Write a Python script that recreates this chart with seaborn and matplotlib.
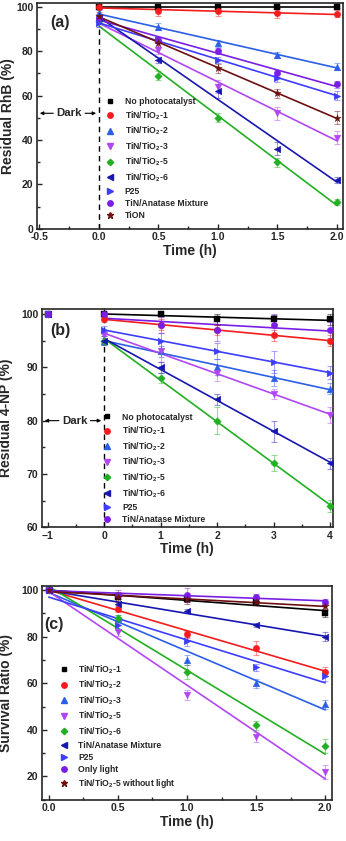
import numpy as np
import matplotlib
matplotlib.use("Agg")
import matplotlib.pyplot as plt
from matplotlib.lines import Line2D
from matplotlib.ticker import MultipleLocator, FormatStrFormatter
import seaborn as sns

sns.set_style("ticks")
plt.rcParams['font.family'] = ['Liberation Sans', 'DejaVu Sans']
plt.rcParams['font.weight'] = 'bold'
plt.rcParams['mathtext.fontset'] = 'custom'
plt.rcParams['mathtext.rm'] = 'Liberation Sans:bold'
plt.rcParams['mathtext.bf'] = 'Liberation Sans:bold'
plt.rcParams['mathtext.default'] = 'bf'

# ---------------- Panel (a) ----------------
a_time = [0, 0.5, 1.0, 1.5, 2.0]
a_labels = ["No photocatalyst", "TiN/TiO$_2$-1", "TiN/TiO$_2$-2", "TiN/TiO$_2$-3",
            "TiN/TiO$_2$-5", "TiN/TiO$_2$-6", "P25", "TiN/Anatase Mixture", "TiON"]
a_nophoto = [100, 100, 100, 100, 100]
a_tio2_1 = [100, 98, 98, 97, 96.8]
a_tio2_2 = [97, 91, 83.5, 78.3, 73]
a_tio2_3 = [93, 80.5, 64, 52, 41]
a_tio2_5 = [93.5, 69, 50, 30, 12]
a_tio2_6 = [95, 76, 62, 36, 22]
a_p25 = [92.5, 85, 76, 68, 60]
a_anatase = [95, 85, 80, 70, 65]
a_tion = [96, 83.5, 72.3, 61, 50]
a_err = [[0.5, 0.5, 0.5, 0.5, 0.5], [1, 2, 2, 2, 1.5], [1.5, 1.5, 1.5, 1.5, 1.5],
         [2, 2, 3, 3, 3], [1.5, 2, 2, 2, 1.5], [1.5, 1.5, 3, 3, 1.5],
         [1.5, 1.5, 1.5, 2, 2], [1.5, 1.5, 1.5, 1.5, 1.5], [1.5, 1.5, 2, 2, 3]]

# ---------------- Panel (b) ----------------
b_time = [-1, 0, 1, 2, 3, 4]
b_labels = ["No photocatalyst", "TiN/TiO$_2$-1", "TiN/TiO$_2$-2", "TiN/TiO$_2$-3",
            "TiN/TiO$_2$-5", "TiN/TiO$_2$-6", "P25", "TiN/Anatase Mixture"]
b_nophoto = [100, 100, 100, 99, 99, 99]
b_tio2_1 = [100, 99, 98, 97, 96, 95]
b_tio2_2 = [100, 95, 93, 90, 88, 86]
b_tio2_3 = [100, 96, 93, 89, 85, 81]
b_tio2_5 = [100, 95, 88, 80, 72, 64]
b_tio2_6 = [100, 95, 90, 84, 78, 72]
b_p25 = [100, 97, 95, 93, 91, 89]
b_anatase = [100, 100, 98, 97, 98, 97]
b_err = [[0.3, 0.3, 0.3, 1, 0.8, 1], [0.3, 0.5, 1, 1, 1, 1], [0.3, 0.5, 1, 1.5, 1.5, 1],
         [0.3, 0.8, 2, 1.5, 1, 1.5], [0.3, 0.8, 1, 2.5, 1.5, 1.2], [0.3, 0.8, 1, 1, 2, 1],
         [0.3, 0.8, 1.5, 1.5, 2, 1.2], [0.5, 0.5, 1.5, 2, 2, 1.5]]

# ---------------- Panel (c) ----------------
c_time = [0, 0.5, 1.0, 1.5, 2.0]
c_labels = ["TiN/TiO$_2$-1", "TiN/TiO$_2$-2", "TiN/TiO$_2$-3", "TiN/TiO$_2$-5",
            "TiN/TiO$_2$-6", "TiN/Anatase Mixture", "P25", "Only light",
            "TiN/TiO$_2$-5 without light"]
c_tio2_1 = [100, 97, 96, 95, 90]
c_tio2_2 = [100, 92, 81, 75, 65]
c_tio2_3 = [100, 88, 70, 60, 51]
c_tio2_5 = [100, 82, 55, 37, 22]
c_tio2_6 = [100, 88, 65, 42, 33]
c_anatase = [100, 94, 91, 85, 80]
c_p25 = [100, 85, 78, 67, 63]
c_light = [100, 98, 98, 97, 95]
c_nolight = [100, 97, 96, 95, 93]
c_err = [[0.5, 1, 1, 1.5, 1.5], [0.5, 1.5, 1.5, 3, 2], [0.5, 1.5, 2, 2, 2],
         [0.5, 1.5, 2, 2, 3], [0.5, 1.5, 3, 2, 3], [0.5, 1, 1, 1, 2],
         [0.5, 2, 2, 1.5, 2], [0.5, 2, 3, 1.5, 1], [0.5, 2, 2, 1, 1]]

black, red, blue, purple, green = "#000000", "#f41c1c", "#2b5fe6", "#b146f2", "#22b022"
dkblue, p25c, violet, brown = "#1717b0", "#3d3dff", "#7a1ee6", "#6e1010"

a_series = [a_nophoto, a_tio2_1, a_tio2_2, a_tio2_3, a_tio2_5, a_tio2_6, a_p25, a_anatase, a_tion]
a_colors = [black, red, blue, purple, green, dkblue, p25c, violet, brown]
a_markers = ["s", "o", "^", "v", "D", "<", ">", "o", "*"]

b_series = [b_nophoto, b_tio2_1, b_tio2_2, b_tio2_3, b_tio2_5, b_tio2_6, b_p25, b_anatase]
b_colors = [black, red, blue, purple, green, dkblue, p25c, violet]
b_markers = ["s", "o", "^", "v", "D", "<", ">", "o"]

c_series = [c_tio2_1, c_tio2_2, c_tio2_3, c_tio2_5, c_tio2_6, c_anatase, c_p25, c_light, c_nolight]
c_colors = [black, red, blue, purple, green, dkblue, p25c, violet, brown]
c_markers = ["s", "o", "^", "v", "D", "<", ">", "o", "*"]

msizes = {"s": 4.0, "o": 4.6, "^": 4.8, "v": 4.8, "D": 3.8, "<": 4.8, ">": 4.8, "*": 5.5}

fig = plt.figure(figsize=(3.46, 8.41), dpi=100)
ax_a = fig.add_axes([0.107, 0.728, 0.884, 0.268])
ax_b = fig.add_axes([0.121, 0.373, 0.841, 0.260])
ax_c = fig.add_axes([0.121, 0.049, 0.839, 0.254])


def draw(ax, t, series, colors, markers, errs, fit_from_index=0):
    t = np.asarray(t, dtype=float)
    for y, col, mk, er in zip(series, colors, markers, errs):
        y = np.asarray(y, dtype=float)
        sns.regplot(x=t[fit_from_index:], y=y[fit_from_index:], ax=ax, ci=None,
                    scatter=False, color=col, line_kws=dict(lw=1.2, zorder=2))
        ax.errorbar(t, y, yerr=er, fmt="none", ecolor=col, alpha=0.45,
                    elinewidth=0.8, capsize=2, capthick=0.8, zorder=3)
        sns.scatterplot(x=t, y=y, ax=ax, color=col, marker=mk, s=msizes[mk] ** 2,
                        edgecolor=col, linewidth=0.3, zorder=4, legend=False)


def legend(ax, labels, colors, markers, anchor):
    handles = [Line2D([], [], ls="none", marker=m, color=c, markersize=msizes[m] * 0.85)
               for m, c in zip(markers, colors)]
    ax.legend(handles, labels, loc="upper left", bbox_to_anchor=anchor, frameon=False,
              prop=dict(size=6.2, weight="bold"), handlelength=1.0, handletextpad=1.2,
              labelspacing=0.36, borderpad=0, borderaxespad=0)


def style(ax):
    for s in ax.spines.values():
        s.set_linewidth(1.2)
        s.set_visible(True)
    ax.tick_params(which="both", direction="in", width=1.0, labelsize=7.5, pad=2.5)
    ax.tick_params(which="major", length=3.5)
    ax.tick_params(which="minor", length=2)
    for lab in ax.get_xticklabels() + ax.get_yticklabels():
        lab.set_fontweight("bold")


def dark(ax, xl, xr, xc, y, half):
    ax.text(xc, y, "Dark", ha="center", va="center", fontsize=8.2, fontweight="bold")
    ap = dict(arrowstyle="-|>", lw=0.8, color="black", mutation_scale=5)
    ax.annotate("", xy=(xl, y), xytext=(xc - half, y), arrowprops=ap)
    ax.annotate("", xy=(xr, y), xytext=(xc + half, y), arrowprops=ap)


# Panel (a)
draw(ax_a, a_time, a_series, a_colors, a_markers, a_err)
ax_a.axvline(0, color="black", ls=(0, (4, 3)), lw=1.0, zorder=1)
ax_a.set_xlim(-0.52, 2.05)
ax_a.set_ylim(0, 101.5)
ax_a.xaxis.set_major_locator(MultipleLocator(0.5))
ax_a.xaxis.set_minor_locator(MultipleLocator(0.25))
ax_a.xaxis.set_major_formatter(FormatStrFormatter("%.1f"))
ax_a.yaxis.set_major_locator(MultipleLocator(20))
ax_a.yaxis.set_minor_locator(MultipleLocator(10))
ax_a.set_xlabel("Time (h)", fontsize=10, fontweight="bold", labelpad=1)
ax_a.set_ylabel("Residual RhB (%)", fontsize=10, fontweight="bold")
ax_a.yaxis.set_label_coords(-0.072, 0.5)
ax_a.text(0.075, 0.915, "(a)", transform=ax_a.transAxes, ha="center", va="center",
          fontsize=11.5, fontweight="bold")
dark(ax_a, -0.52, 0.0, -0.25, 52, 0.11)
legend(ax_a, a_labels, a_colors, a_markers, (0.225, 0.585))
style(ax_a)

# Panel (b)
draw(ax_b, b_time, b_series, b_colors, b_markers, b_err, fit_from_index=1)
ax_b.axvline(0, color="black", ls=(0, (4, 3)), lw=1.0, zorder=1)
ax_b.set_xlim(-1.1, 4.05)
ax_b.set_ylim(60, 101)
ax_b.xaxis.set_major_locator(MultipleLocator(1))
ax_b.xaxis.set_minor_locator(MultipleLocator(0.5))
ax_b.yaxis.set_major_locator(MultipleLocator(10))
ax_b.yaxis.set_minor_locator(MultipleLocator(5))
ax_b.set_xlabel("Time (h)", fontsize=10, fontweight="bold", labelpad=1)
ax_b.set_ylabel("Residual 4-NP (%)", fontsize=10, fontweight="bold")
ax_b.yaxis.set_label_coords(-0.098, 0.5)
ax_b.text(0.063, 0.90, "(b)", transform=ax_b.transAxes, ha="center", va="center",
          fontsize=11.5, fontweight="bold")
dark(ax_b, -1.1, 0.0, -0.52, 80, 0.23)
legend(ax_b, b_labels, b_colors, b_markers, (0.21, 0.525))
style(ax_b)

# Panel (c)
draw(ax_c, c_time, c_series, c_colors, c_markers, c_err)
ax_c.set_xlim(-0.05, 2.05)
ax_c.set_ylim(10, 101.7)
ax_c.xaxis.set_major_locator(MultipleLocator(0.5))
ax_c.xaxis.set_minor_locator(MultipleLocator(0.25))
ax_c.xaxis.set_major_formatter(FormatStrFormatter("%.1f"))
ax_c.yaxis.set_major_locator(MultipleLocator(20))
ax_c.yaxis.set_minor_locator(MultipleLocator(10))
ax_c.set_xlabel("Time (h)", fontsize=10, fontweight="bold", labelpad=1)
ax_c.set_ylabel("Survival Ratio (%)", fontsize=10, fontweight="bold")
ax_c.yaxis.set_label_coords(-0.098, 0.5)
ax_c.text(0.04, 0.82, "(c)", transform=ax_c.transAxes, ha="center", va="center",
          fontsize=11.5, fontweight="bold")
legend(ax_c, c_labels, c_colors, c_markers, (0.06, 0.64))
style(ax_c)

fig.savefig("out.png", dpi=100)
